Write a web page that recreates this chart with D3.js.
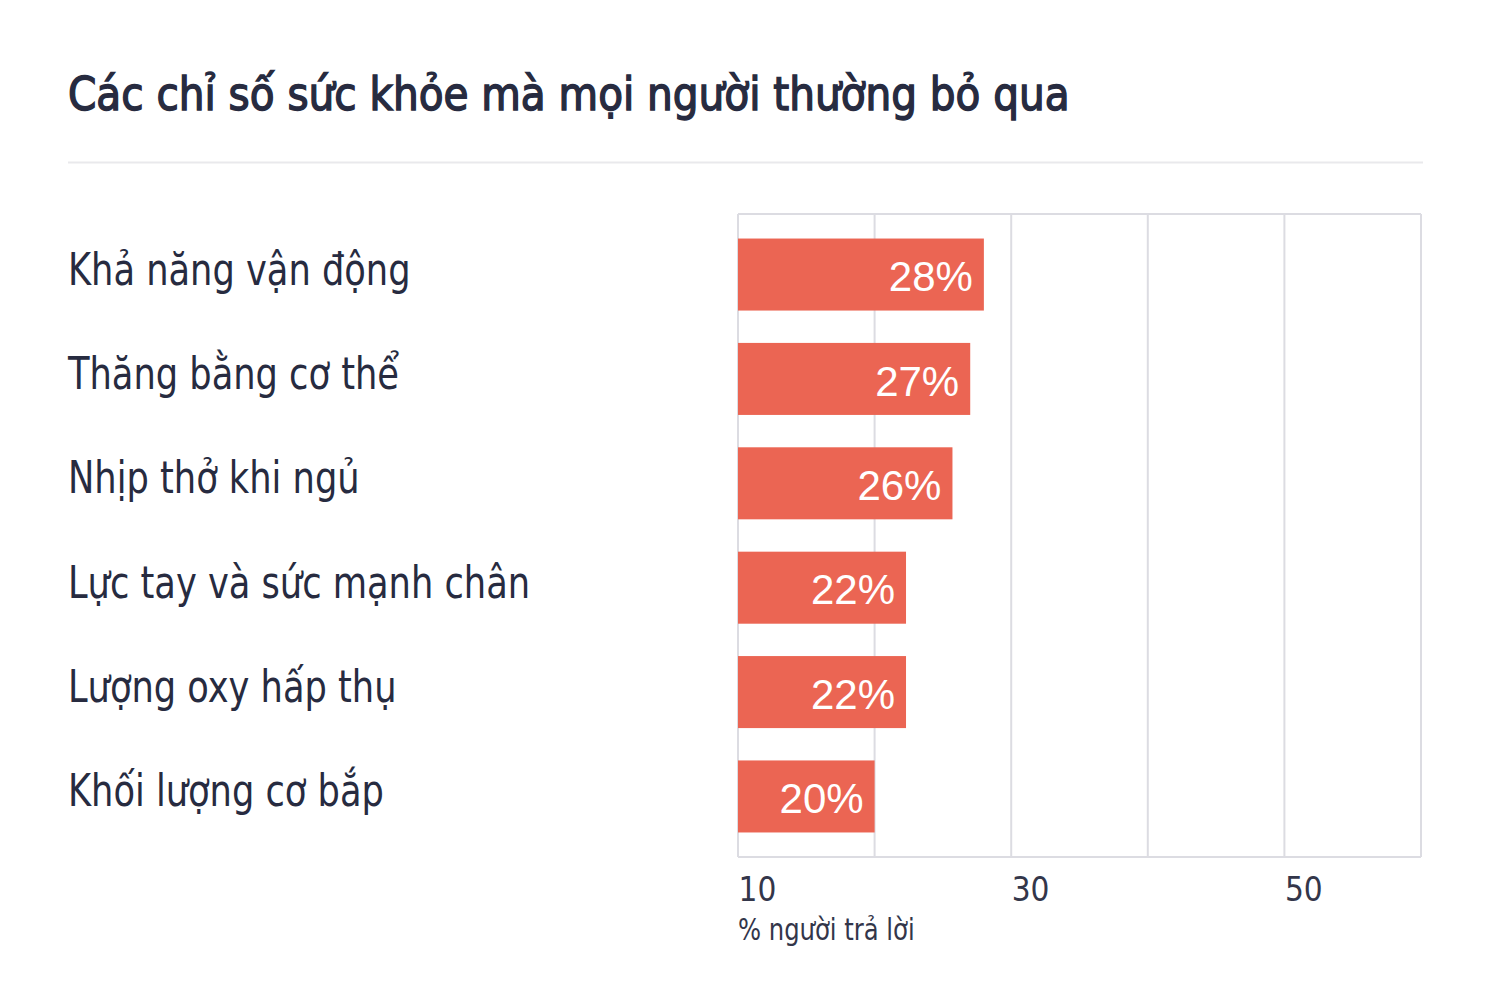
<!DOCTYPE html>
<html>
<head>
<meta charset="utf-8">
<script src="https://cdn.jsdelivr.net/npm/d3@7"></script>
<style>
  body { margin: 0; background: #fff; }
  svg { display: block; }
</style>
</head>
<body>
<div id="chart"></div>
<script>
// data
const categories = [
  "Khả năng vận động",
  "Thăng bằng cơ thể",
  "Nhịp thở khi ngủ",
  "Lực tay và sức mạnh chân",
  "Lượng oxy hấp thụ",
  "Khối lượng cơ bắp"
];
const values = [28, 27, 25.7, 22.3, 22.3, 20];
const tickValues = [10, 30, 50];
const gridValues = [10, 20, 30, 40, 50, 60];

const titleText = "Các chỉ số sức khỏe mà mọi người thường bỏ qua";
const axisTitle = "% người trả lời";

const W = 1500, H = 1000;
const margin = {top: 214, left: 738, right: 79, bottom: 143};
const width = W - margin.left - margin.right,
      height = H - margin.top - margin.bottom;

const condensed = "'DejaVu Sans Condensed', 'DejaVu Sans', sans-serif";
const ink = "#272b40";

const svg = d3.select("#chart").append("svg")
  .attr("width", W).attr("height", H);

// title + rule (regular weight with a thin stroke ~ medium weight)
svg.append("text")
  .attr("transform", "translate(68,110) scale(0.96,1)")
  .attr("font-family", condensed)
  .attr("font-size", 47)
  .attr("fill", ink)
  .attr("stroke", ink)
  .attr("stroke-width", 1.4)
  .text(titleText);

svg.append("line")
  .attr("x1", 68).attr("x2", 1423)
  .attr("y1", 162.5).attr("y2", 162.5)
  .attr("stroke", "#e9e9ec").attr("stroke-width", 2);

const g = svg.append("g")
  .attr("transform", "translate(" + margin.left + "," + margin.top + ")");

const x = d3.scaleLinear().domain([10, 60]).range([0, width]);
const y = d3.scaleBand()
  .domain(categories)
  .range([0, height])
  .paddingInner(0.31)
  .paddingOuter(0.235);

// grid
g.selectAll(".grid").data(gridValues).enter().append("line")
  .attr("class", "grid")
  .attr("x1", d => x(d)).attr("x2", d => x(d))
  .attr("y1", 0).attr("y2", height)
  .attr("stroke", "#dcdce2").attr("stroke-width", 2);

g.append("line")
  .attr("x1", 0).attr("x2", width).attr("y1", 0).attr("y2", 0)
  .attr("stroke", "#dcdce2").attr("stroke-width", 2);
g.append("line")
  .attr("x1", 0).attr("x2", width).attr("y1", height).attr("y2", height)
  .attr("stroke", "#dcdce2").attr("stroke-width", 2);

// bars
g.selectAll(".bar").data(values).enter().append("rect")
  .attr("class", "bar")
  .attr("x", x(10))
  .attr("y", (d, i) => y(categories[i]))
  .attr("width", d => x(d) - x(10))
  .attr("height", y.bandwidth())
  .attr("fill", "#eb6553");

// value labels
g.selectAll(".val").data(values).enter().append("text")
  .attr("class", "val")
  .attr("x", d => x(d) - 11)
  .attr("y", (d, i) => y(categories[i]) + y.bandwidth() / 2)
  .attr("dy", "0.4em")
  .attr("text-anchor", "end")
  .attr("font-family", "'Liberation Sans', Arial, sans-serif")
  .attr("font-size", 42)
  .attr("fill", "#fff")
  .text(d => Math.round(d) + "%");

// category labels
svg.selectAll(".cat").data(categories).enter().append("text")
  .attr("class", "cat")
  .attr("transform", d => "translate(68," + (margin.top + y(d) + y.bandwidth() / 2 + 10) + ") scale(0.89,1)")
  .attr("font-family", condensed)
  .attr("font-size", 44)
  .attr("fill", ink)
  .text(d => d);

// x axis ticks
const xAxis = d3.axisBottom(x).tickValues(tickValues).tickSize(0).tickPadding(0);
const ax = g.append("g")
  .attr("transform", "translate(0," + height + ")")
  .call(xAxis);
ax.select(".domain").remove();
ax.selectAll("text")
  .attr("text-anchor", "start")
  .attr("y", 44)
  .attr("dy", 0)
  .attr("font-family", condensed)
  .attr("font-size", 33)
  .attr("fill", "#33364a");

g.append("text")
  .attr("transform", "translate(0," + (height + 83) + ") scale(0.9,1)")
  .attr("font-family", condensed)
  .attr("font-size", 30)
  .attr("fill", "#33364a")
  .text(axisTitle);
</script>
</body>
</html>
